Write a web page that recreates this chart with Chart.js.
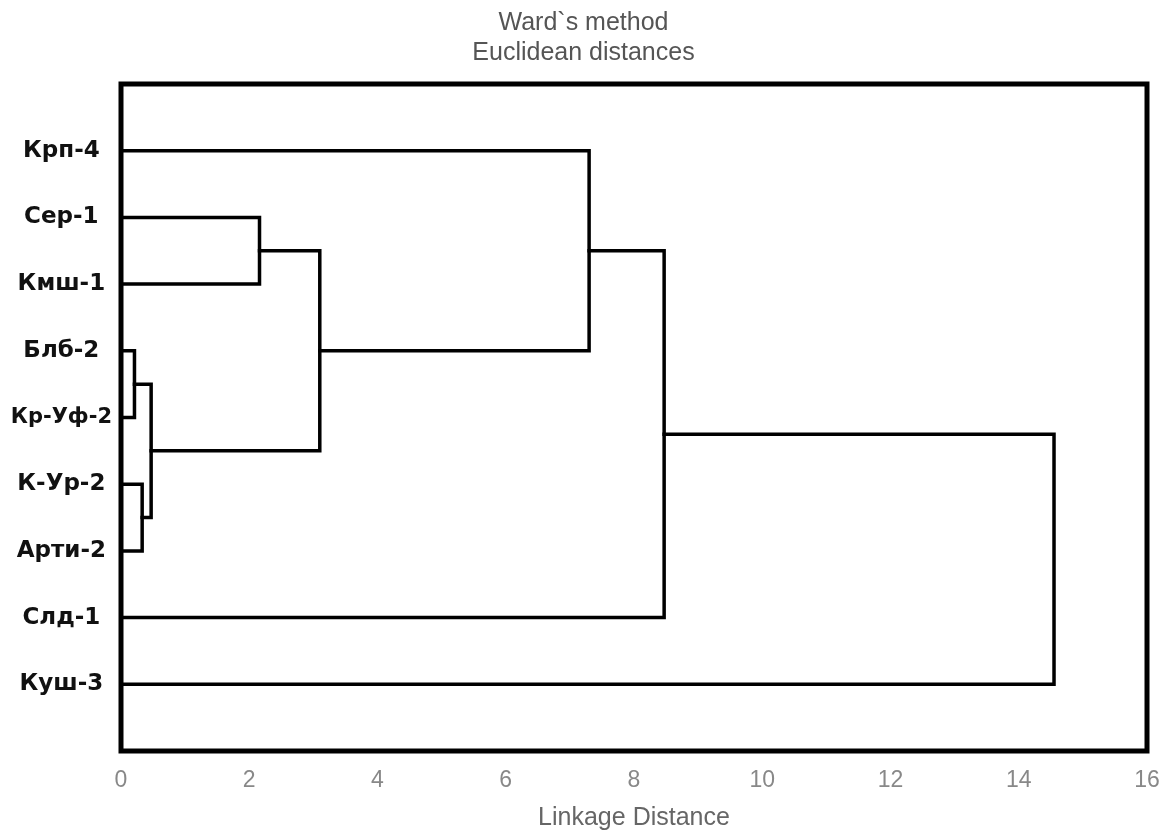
<!DOCTYPE html>
<html lang="ru">
<head>
<meta charset="UTF-8">
<title>Ward`s method - Euclidean distances</title>
<script src="https://cdn.jsdelivr.net/npm/chart.js"></script>
<style>
  html, body { margin: 0; padding: 0; background: #fff; }
  #wrap { width: 1169px; height: 840px; }
</style>
</head>
<body>
<div id="wrap"><canvas id="tree" width="1169" height="840"></canvas></div>
<script>
  // leaves, top to bottom
  const leaves = ['Крп-4', 'Сер-1', 'Кмш-1', 'Блб-2', 'Кр-Уф-2', 'К-Ур-2', 'Арти-2', 'Слд-1', 'Куш-3'];
  // linkage table: node ids 0..8 are leaves, 9.. are the merges below in order
  const mergeLeft  = [3, 5, 9, 1, 12, 0, 14, 15];
  const mergeRight = [4, 6, 10, 2, 11, 13, 7, 8];
  const mergeDist  = [0.21, 0.33, 0.47, 2.16, 3.10, 7.30, 8.47, 14.55];
  const xTicks = [0, 2, 4, 6, 8, 10, 12, 14, 16];

  // position (row) and height of every node
  let nodeRow = leaves.map((_, i) => i + 1);
  let nodeHeight = leaves.map(() => 0);
  let links = [];
  mergeDist.forEach((d, k) => {
    let a = mergeLeft[k], b = mergeRight[k];
    links.push({
      label: 'merge ' + (k + 1),
      data: [
        {x: nodeHeight[a], y: nodeRow[a]},
        {x: d, y: nodeRow[a]},
        {x: d, y: nodeRow[b]},
        {x: nodeHeight[b], y: nodeRow[b]}
      ],
      showLine: true,
      borderColor: '#000',
      borderWidth: 3.5,
      pointRadius: 0,
      borderCapStyle: 'square',
      borderJoinStyle: 'miter',
      tension: 0
    });
    nodeRow.push((nodeRow[a] + nodeRow[b]) / 2);
    nodeHeight.push(d);
  });

  // thick box round the plot area
  const frame = {
    id: 'frame',
    afterDatasetsDraw(chart) {
      const {ctx, chartArea: a} = chart;
      ctx.save();
      ctx.strokeStyle = '#000';
      ctx.lineWidth = 5;
      ctx.strokeRect(a.left, a.top, a.right - a.left, a.bottom - a.top);
      ctx.restore();
    }
  };

  new Chart(document.getElementById('tree'), {
    type: 'scatter',
    data: { datasets: links },
    plugins: [frame],
    options: {
      responsive: false,
      animation: false,
      layout: { padding: { left: 0, right: 2, top: 0, bottom: 0 } },
      plugins: {
        legend: { display: false },
        tooltip: { enabled: false },
        title: {
          display: true,
          text: ['Ward`s method', 'Euclidean distances'],
          color: '#555',
          font: { family: 'Liberation Sans', size: 25, weight: 'normal', lineHeight: 1.2 },
          padding: { top: 8, bottom: 16 }
        }
      },
      scales: {
        x: {
          type: 'linear',
          min: 0,
          max: 16,
          grid: { display: false, drawTicks: false },
          border: { display: false },
          afterBuildTicks: s => { s.ticks = xTicks.map(v => ({value: v})); },
          afterFit: s => { s.height = 89; s.paddingRight = 22; },
          ticks: {
            color: '#888',
            padding: 16,
            maxRotation: 0,
            font: { family: 'Liberation Sans', size: 23 }
          },
          title: {
            display: true,
            text: 'Linkage Distance',
            color: '#666',
            font: { family: 'Liberation Sans', size: 25, lineHeight: 1.2 },
            padding: { top: 0, bottom: 7 }
          }
        },
        y: {
          type: 'linear',
          min: 0,
          max: 10,
          reverse: true,
          grid: { display: false, drawTicks: false },
          border: { display: false },
          afterBuildTicks: s => { s.ticks = leaves.map((_, i) => ({value: i + 1})); },
          afterFit: s => { s.width = 121; },
          ticks: {
            color: '#111',
            padding: 9,
            crossAlign: 'center',
            autoSkip: false,
            callback: v => leaves[v - 1],
            font: ctx => ({
              family: 'DejaVu Sans',
              size: ctx.tick && ctx.tick.value === 5 ? 21 : 23,
              weight: 'bold'
            })
          }
        }
      }
    }
  });
</script>
</body>
</html>
